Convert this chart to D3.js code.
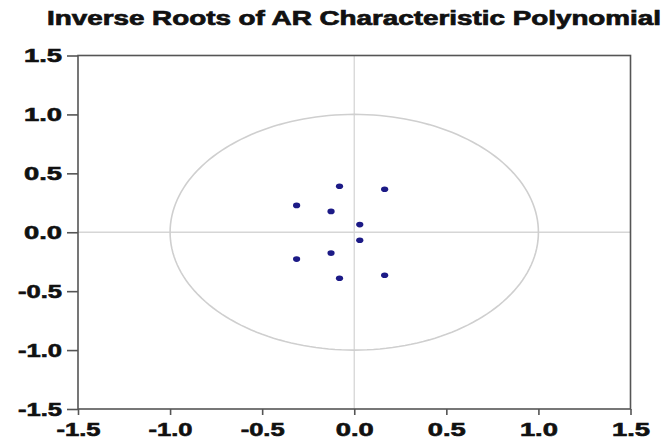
<!DOCTYPE html>
<html>
<head>
<meta charset="utf-8">
<script src="https://cdn.jsdelivr.net/npm/d3@7"></script>
<style>
  body { margin: 0; background: #fff; }
  text { font-family: "Liberation Sans", Arial, sans-serif; font-weight: bold; }
</style>
</head>
<body>
<div id="chart"></div>
<script>
const rootsRe = [-0.08, 0.165, -0.313, -0.126, 0.03, 0.03, -0.126, -0.313, -0.08, 0.165]
const rootsIm = [0.39, 0.365, 0.228, 0.177, 0.065, -0.068, -0.177, -0.228, -0.39, -0.365]
const tickVals = [-1.5, -1.0, -0.5, 0.0, 0.5, 1.0, 1.5]
const titleText = "Inverse Roots of AR Characteristic Polynomial"

const W = 663, H = 441
const svg = d3.select("#chart").append("svg").attr("width", W).attr("height", H)

const x = d3.scaleLinear().domain([-1.5, 1.5]).range([78, 630.5])
const y = d3.scaleLinear().domain([-1.5, 1.5]).range([409, 55.5])

// title is wide and heavy in the original, so stretch it and thicken a bit
svg.append("text")
    .attr("x", 47).attr("y", 25)
    .attr("font-size", 20)
    .attr("textLength", 614).attr("lengthAdjust", "spacingAndGlyphs")
    .attr("fill", "#111").attr("stroke", "#111").attr("stroke-width", 0.7)
    .text(titleText)

// zero lines
svg.append("line").attr("x1", x(0)).attr("x2", x(0)).attr("y1", y(1.5)).attr("y2", y(-1.5))
    .attr("stroke", "#d6d6d6").attr("stroke-width", 1.3)
svg.append("line").attr("x1", x(-1.5)).attr("x2", x(1.5)).attr("y1", y(0)).attr("y2", y(0))
    .attr("stroke", "#d6d6d6").attr("stroke-width", 1.3)

// unit circle
const circ = d3.range(0, 361, 2).map(a => [Math.cos(a * Math.PI / 180), Math.sin(a * Math.PI / 180)])
svg.append("path")
    .attr("d", d3.line().x(d => x(d[0])).y(d => y(d[1]))(circ))
    .attr("fill", "none").attr("stroke", "#cfcfcf").attr("stroke-width", 1.6)

// frame
svg.append("rect")
    .attr("x", x(-1.5)).attr("y", y(1.5))
    .attr("width", x(1.5) - x(-1.5)).attr("height", y(-1.5) - y(1.5))
    .attr("fill", "none").attr("stroke", "#555").attr("stroke-width", 1.6)

const fmt = d => d3.format(".1f")(d).replace("\u2212", "-")
const xAxis = d3.axisBottom(x).tickValues(tickVals).tickFormat(fmt).tickSize(6).tickSizeOuter(0)
const yAxis = d3.axisLeft(y).tickValues(tickVals).tickFormat(fmt).tickSize(11).tickSizeOuter(0)

const gx = svg.append("g").attr("transform", `translate(0,${y(-1.5)})`).call(xAxis)
const gy = svg.append("g").attr("transform", `translate(${x(-1.5)},0)`).call(yAxis)
gx.select(".domain").remove()
gy.select(".domain").remove()
gx.selectAll("line").attr("stroke", "#555").attr("stroke-width", 1.6)
gy.selectAll("line").attr("stroke", "#555").attr("stroke-width", 1.6)

// labels are wide bold digits; stretch them like the original
const lblLen = d => d < 0 ? 44 : 38
gx.selectAll("text").attr("font-size", 18).attr("fill", "#111")
    .attr("stroke", "#111").attr("stroke-width", 0.6)
    .attr("y", 11).attr("dy", "0.9em")
    .attr("textLength", lblLen).attr("lengthAdjust", "spacingAndGlyphs")
gy.selectAll("text").attr("font-size", 18).attr("fill", "#111")
    .attr("stroke", "#111").attr("stroke-width", 0.6)
    .attr("x", -16).attr("dy", "0.36em")
    .attr("textLength", lblLen).attr("lengthAdjust", "spacingAndGlyphs")

// roots
const pts = rootsRe.map((r, i) => ({ re: r, im: rootsIm[i] }))
svg.append("g").selectAll("ellipse").data(pts).enter().append("ellipse")
    .attr("cx", d => x(d.re)).attr("cy", d => y(d.im))
    .attr("rx", 3.6).attr("ry", 2.8)
    .attr("fill", "#1c1a86")
</script>
</body>
</html>
